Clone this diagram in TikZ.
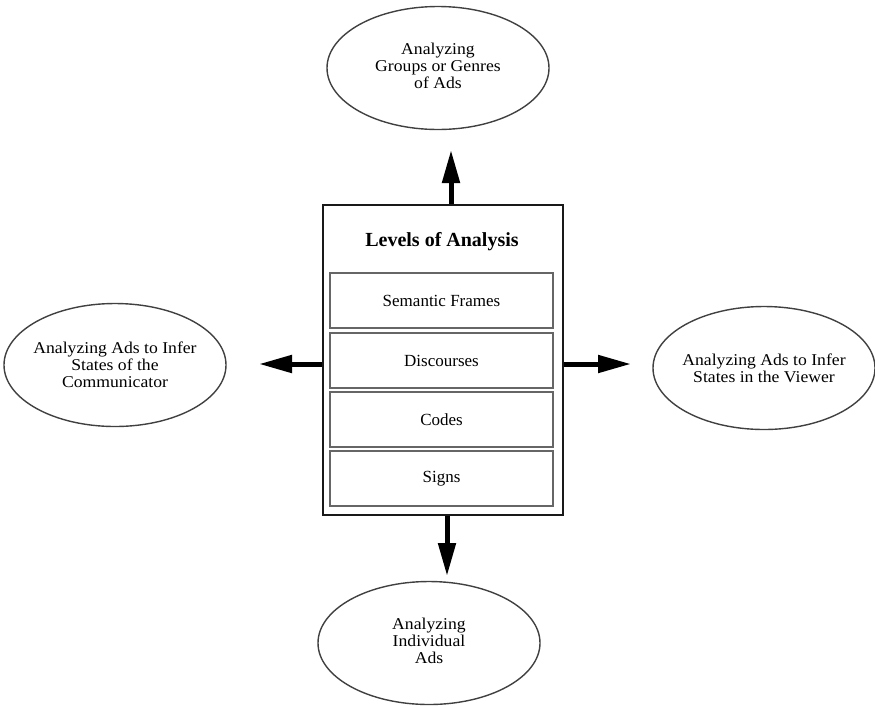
\documentclass[tikz,border=0pt]{standalone}
\usepackage{fontspec}
\setmainfont{Liberation Serif}
\newfontfamily\ovalfont{Liberation Serif}[FakeStretch=1.07]
\usetikzlibrary{shapes.geometric,arrows.meta}
\begin{document}
\begin{tikzpicture}[x=1pt,y=-1pt,
  oval/.style={ellipse, draw=black!75, line width=1.4pt, minimum width=222pt,
    minimum height=123pt, inner xsep=-30pt, inner ysep=0pt, align=center,
    font=\ovalfont\fontsize{16.5}{17}\selectfont},
  outerbox/.style={draw=black!90, line width=2.8pt, minimum width=240pt,
    minimum height=310pt, inner sep=0pt},
  levelbox/.style={draw=black!60, line width=1.3pt, minimum width=223pt,
    minimum height=55pt, inner sep=0pt, font=\fontsize{17}{20}\selectfont},
  bigarrow/.style={line width=5pt, -{Triangle[length=33pt,width=17pt]}}
]
\useasboundingbox (0,0) rectangle (875,705);

% central panel with the four levels
\node[outerbox] (panel) at (443,360) {};
\node[font=\bfseries\fontsize{20}{24}\selectfont] (title) at (442,242) {Levels of Analysis};
\node[levelbox] (frames) at (441.5,300.5) {Semantic Frames};
\node[levelbox] (disc) at (441.5,360.5) {Discourses};
\node[levelbox] (codes) at (441.5,419.5) {Codes};
\node[levelbox] (signs) at (441.5,478.5) {Signs};

% surrounding perspectives
\node[oval] (genres) at (438,68) {\raisebox{-9pt}{\begin{tabular}{@{}c@{}}Analyzing\\Groups or Genres\\of Ads\end{tabular}}};
\node[oval] (comm) at (115,365) {Analyzing Ads to Infer\\States of the\\Communicator};
\node[oval] (viewer) at (764,368) {Analyzing Ads to Infer\\States in the Viewer};
\node[oval] (indiv) at (429,643) {\raisebox{4pt}{\begin{tabular}{@{}c@{}}Analyzing\\Individual\\Ads\end{tabular}}};

% arrow tips
\coordinate (tipN) at (451,150);
\coordinate (tipS) at (447,576);
\coordinate (tipW) at (259,364);
\coordinate (tipE) at (631,364);

\draw[bigarrow] (panel.north -| tipN) -- (tipN);
\draw[bigarrow] (panel.south -| tipS) -- (tipS);
\draw[bigarrow] (panel.west |- tipW) -- (tipW);
\draw[bigarrow] (panel.east |- tipE) -- (tipE);
\end{tikzpicture}
\end{document}
